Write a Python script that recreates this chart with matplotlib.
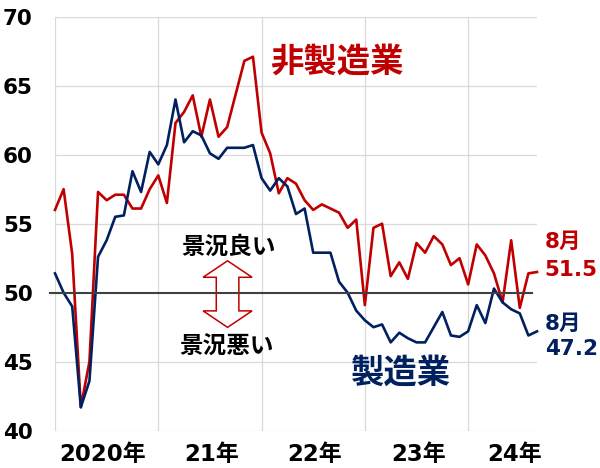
import matplotlib.pyplot as plt
import matplotlib.patches as mpatches
import numpy as np

# monthly PMI readings, Jan 2020 -> Aug 2024 (as plotted)
non_mfg = [56.0, 57.5, 52.8, 41.7, 45.0, 57.3, 56.7, 57.1, 57.1, 56.1, 56.1, 57.5,
           58.5, 56.5, 62.3, 63.1, 64.3, 61.3, 64.0, 61.3, 62.0, 64.4, 66.8, 67.1,
           61.6, 60.1, 57.2, 58.3, 57.9, 56.7, 56.0, 56.4, 56.1, 55.8, 54.7, 55.3,
           49.1, 54.7, 55.0, 51.2, 52.2, 51.0, 53.6, 52.9, 54.1, 53.5, 52.0, 52.5,
           50.6, 53.5, 52.7, 51.4, 49.3, 53.8, 48.9, 51.4, 51.5]
mfg = [51.4, 50.0, 49.0, 41.7, 43.6, 52.6, 53.8, 55.5, 55.6, 58.8, 57.3, 60.2,
       59.3, 60.7, 64.0, 60.9, 61.7, 61.4, 60.1, 59.7, 60.5, 60.5, 60.5, 60.7,
       58.3, 57.4, 58.3, 57.7, 55.7, 56.1, 52.9, 52.9, 52.9, 50.8, 50.0, 48.7,
       48.0, 47.5, 47.7, 46.4, 47.1, 46.7, 46.4, 46.4, 47.5, 48.6, 46.9, 46.8,
       47.2, 49.1, 47.8, 50.3, 49.3, 48.8, 48.5, 46.9, 47.2]
year_labels = ['2020年', '21年', '22年', '23年', '24年']
yticks = [40, 45, 50, 55, 60, 65, 70]

RED = '#C00000'
NAVY = '#002060'
GRID = '#D9D9D9'
num_font = ['DejaVu Sans', 'Noto Sans CJK JP']
jp_font = ['Noto Sans CJK JP', 'DejaVu Sans']

fig = plt.figure(figsize=(6, 4.68), dpi=100)
ax = fig.add_axes([55 / 600, 1 - 430.7 / 468, (537 - 55) / 600, (430.7 - 16.7) / 468])

x = np.arange(len(mfg))
ax.set_xlim(0, len(mfg) - 1)
ax.set_ylim(40, 70)

# grid
for v in yticks:
    if v != 50:
        ax.axhline(v, color=GRID, lw=0.9, zorder=0)
for v in range(0, len(mfg), 12):
    ax.axvline(v, color=GRID, lw=0.9, zorder=0)
for s in ax.spines.values():
    s.set_visible(False)

# 50 reference line
ax.plot([-0.6, 55.4], [50, 50], color='#404040', lw=1.5, zorder=4, clip_on=False)

ax.plot(x, non_mfg, color=RED, lw=1.9, zorder=3, clip_on=False)
ax.plot(x, mfg, color=NAVY, lw=1.9, zorder=3, clip_on=False)

ax.set_yticks(yticks)
ax.set_yticklabels([str(v) for v in yticks], fontsize=15.5, fontweight='bold', family=num_font)
ax.set_xticks([5.5, 18.2, 30.2, 42.2, 53.4])
ax.set_xticklabels(year_labels, fontsize=16.5, fontweight='bold', family=num_font)
ax.tick_params(axis='y', length=0, pad=16)
ax.tick_params(axis='x', length=0, pad=9)

# double-headed block arrow
cx, cy = 20.05, 49.9
hw, sw = 24.5 / 8.61, 11.3 / 8.61
hh, hl = 33.3 / 13.8, 16.5 / 13.8
pts = [(cx, cy + hh), (cx + hw, cy + hh - hl), (cx + sw, cy + hh - hl),
       (cx + sw, cy - hh + hl), (cx + hw, cy - hh + hl), (cx, cy - hh),
       (cx - hw, cy - hh + hl), (cx - sw, cy - hh + hl), (cx - sw, cy + hh - hl),
       (cx - hw, cy + hh - hl)]
ax.add_patch(mpatches.Polygon(pts, closed=True, facecolor='white', edgecolor=RED, lw=1.1, zorder=3))

ax.text(20.2, 53.3, '景況良い', fontsize=17, fontweight='bold', family=jp_font,
        ha='center', va='center')
ax.text(19.9, 46.1, '景況悪い', fontsize=17, fontweight='bold', family=jp_font,
        ha='center', va='center')
ax.text(32.75, 66.7, '非製造業', fontsize=24, fontweight='bold', family=jp_font,
        color=RED, ha='center', va='center')
ax.text(40.2, 44.2, '製造業', fontsize=24, fontweight='bold', family=jp_font,
        color=NAVY, ha='center', va='center')

ax.text(56.9, 53.65, '8月', fontsize=15.5, fontweight='bold', family=num_font,
        color=RED, ha='left', va='center', clip_on=False)
ax.text(56.9, 51.65, '51.5', fontsize=15.5, fontweight='bold', family=num_font,
        color=RED, ha='left', va='center', clip_on=False)
ax.text(56.9, 47.75, '8月', fontsize=15.5, fontweight='bold', family=num_font,
        color=NAVY, ha='left', va='center', clip_on=False)
ax.text(56.9, 45.95, '47.2', fontsize=15.5, fontweight='bold', family=num_font,
        color=NAVY, ha='left', va='center', clip_on=False)

fig.savefig('out.png', dpi=100)
